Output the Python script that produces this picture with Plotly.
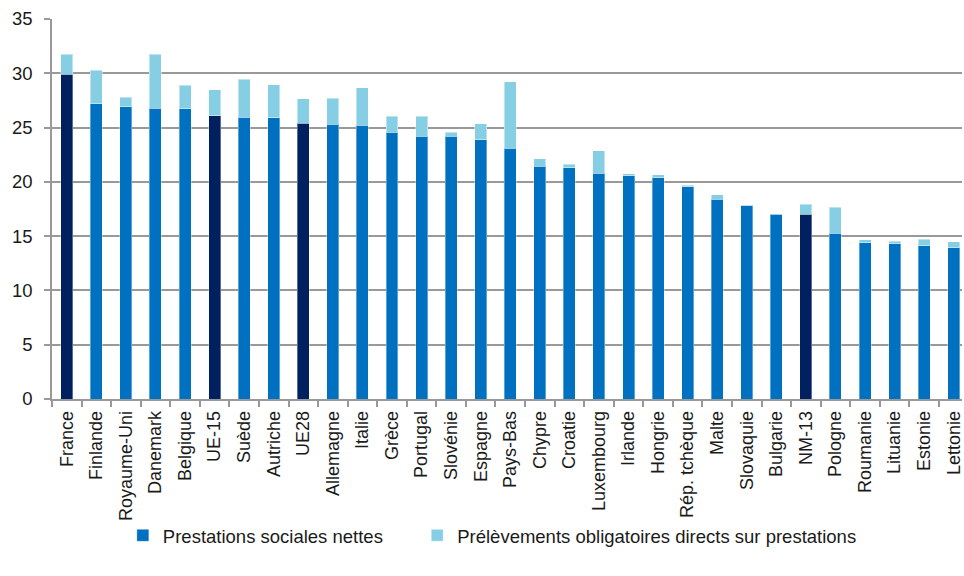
import plotly.graph_objects as go

# Countries and aggregates, in descending order of gross benefits
countries = ["France", "Finlande", "Royaume-Uni", "Danemark", "Belgique", "UE-15",
             "Suède", "Autriche", "UE28", "Allemagne", "Italie", "Grèce", "Portugal",
             "Slovénie", "Espagne", "Pays-Bas", "Chypre", "Croatie", "Luxembourg",
             "Irlande", "Hongrie", "Rép. tchèque", "Malte", "Slovaquie", "Bulgarie",
             "NM-13", "Pologne", "Roumanie", "Lituanie", "Estonie", "Lettonie"]

# Net social benefits (% of GDP)
net_benefits = [29.9, 27.2, 26.9, 26.8, 26.75, 26.1, 25.95, 25.9, 25.4, 25.3, 25.2,
                24.55, 24.2, 24.2, 23.9, 23.1, 21.45, 21.3, 20.8, 20.55, 20.4, 19.55,
                18.4, 17.8, 17.0, 17.0, 15.25, 14.4, 14.3, 14.1, 13.95]

# Compulsory levies charged directly on benefits (% of GDP)
levies = [1.85, 3.1, 0.9, 4.95, 2.15, 2.4, 3.5, 3.05, 2.25, 2.4, 3.45,
          1.5, 1.85, 0.35, 1.45, 6.1, 0.7, 0.3, 2.05, 0.2, 0.25, 0.13,
          0.4, 0.07, 0.07, 0.95, 2.4, 0.25, 0.25, 0.6, 0.55]

# France and the EU aggregates are highlighted in navy
highlighted = ["France", "UE-15", "UE28", "NM-13"]

BLUE = "#0070C0"
NAVY = "#002060"
LIGHT = "#85CEE3"
GRID = "#999999"
TEXT = "#1a1a1a"
FONT = "Liberation Sans"
EDGE = dict(color="rgba(255,255,255,0.35)", width=1)

regular_x = [c for c in countries if c not in highlighted]
regular_y = [v for c, v in zip(countries, net_benefits) if c not in highlighted]
high_x = [c for c in countries if c in highlighted]
high_y = [v for c, v in zip(countries, net_benefits) if c in highlighted]

fig = go.Figure()
fig.add_trace(go.Bar(
    x=regular_x, y=regular_y, name="Prestations sociales nettes",
    marker=dict(color=BLUE, line=EDGE), legend="legend",
))
fig.add_trace(go.Bar(
    x=high_x, y=high_y, name="Prestations sociales nettes",
    marker=dict(color=NAVY, line=EDGE), showlegend=False,
))
fig.add_trace(go.Bar(
    x=countries, y=levies, name="Prélèvements obligatoires directs sur prestations",
    marker=dict(color=LIGHT, line=dict(color="rgba(255,255,255,0.45)", width=1)),
    legend="legend2",
))

legend_style = dict(
    orientation="h", y=-0.36, yanchor="middle", xanchor="left",
    font=dict(family=FONT, size=18.5, color=TEXT),
    itemwidth=30, bgcolor="rgba(0,0,0,0)",
)

fig.update_layout(
    barmode="stack",
    bargap=0.595,
    width=964, height=576,
    margin=dict(l=52, r=0, t=19, b=176.5),
    plot_bgcolor="white", paper_bgcolor="white",
    font=dict(family=FONT, size=18, color=TEXT),
    showlegend=True,
    legend=dict(legend_style, x=(123 - 52) / 912),
    legend2=dict(legend_style, x=(418 - 52) / 912),
)

fig.update_xaxes(
    type="category", categoryorder="array", categoryarray=countries,
    range=[-0.5, 30.28],
    showline=True, linecolor=GRID, linewidth=1.5,
    ticks="outside", ticklen=6, tickcolor=GRID, tickwidth=1.5,
    tickson="boundaries", tickangle=-90,
    tickfont=dict(family=FONT, size=18, color=TEXT),
    ticklabelstandoff=3,
    showgrid=False,
)
fig.update_yaxes(
    range=[0, 35], dtick=5, tick0=0,
    showline=True, linecolor=GRID, linewidth=1.5,
    ticks="outside", ticklen=6, tickcolor=GRID, tickwidth=1.5,
    showgrid=True, gridcolor=GRID, gridwidth=1.5,
    zeroline=False,
    tickfont=dict(family=FONT, size=18.5, color=TEXT),
    ticklabelstandoff=8,
)

fig.write_html("out.html")
